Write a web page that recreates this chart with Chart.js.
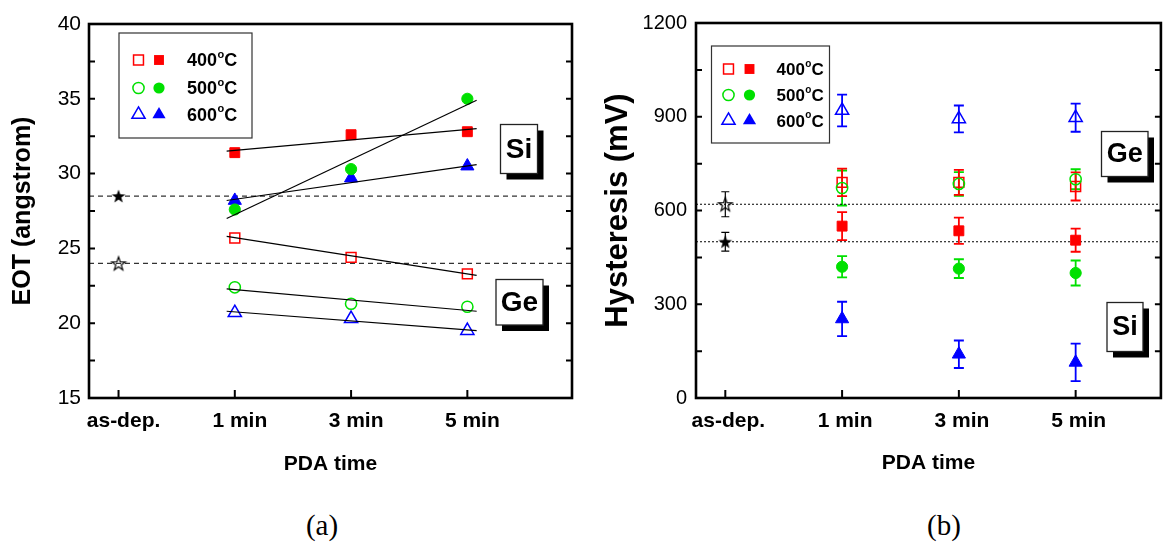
<!DOCTYPE html>
<html>
<head>
<meta charset="utf-8">
<title>EOT and hysteresis vs PDA time</title>
<script src="https://cdn.jsdelivr.net/npm/chart.js@4.4.1/dist/chart.umd.min.js"></script>
<style>
  body { margin: 0; background: #fff; }
  #wrap { position: relative; width: 1170px; height: 542px; overflow: hidden; background: #fff; }
  #wrap canvas { position: absolute; top: 0; }
  #chartA { left: 0; }
  #chartB { left: 590px; }
  .caption { position: absolute; top: 510px; width: 100px; line-height: 30px; text-align: center;
             font-family: 'Liberation Serif', 'Times New Roman', serif; font-size: 29px; color: #000; }
</style>
</head>
<body>
<div id="wrap">
  <canvas id="chartA" width="590" height="490"></canvas>
  <canvas id="chartB" width="580" height="490"></canvas>
  <div class="caption" style="left: 272px">(a)</div>
  <div class="caption" style="left: 894px">(b)</div>
</div>
<script>
const categories = ['as-dep.', '1 min', '3 min', '5 min'];
const pdaX = [1, 2, 3];            // where the 1, 3 and 5 min samples sit on the axis
const tempLabels = ['400', '500', '600'];

// (a) EOT in angstrom at 1, 3, 5 min
const eotAsDep = [28.5, 24.0];     // Si, Ge
const eotSi400 = [31.4, 32.6, 32.8];
const eotSi500 = [27.6, 30.3, 35.0];
const eotSi600 = [28.2, 29.7, 30.5];
const eotGe400 = [25.7, 24.4, 23.3];
const eotGe500 = [22.4, 21.3, 21.1];
const eotGe600 = [20.7, 20.3, 19.5];

// straight fit segments as drawn: value at the two ends
const fitEnds = [0.93, 3.08];
const eotFitSi400 = [31.5, 33.0];
const eotFitSi500 = [27.0, 34.9];
const eotFitSi600 = [28.2, 30.6];
const eotFitGe400 = [25.8, 23.2];
const eotFitGe500 = [22.3, 20.8];
const eotFitGe600 = [20.8, 19.5];

// (b) hysteresis in mV, with error half-widths
const hysAsDep = [500, 620];       // Si, Ge
const hysAsDepErr = [30, 40];
const hysSi400 = [550, 535, 505];
const hysSi400Err = [45, 42, 37];
const hysSi500 = [420, 414, 400];
const hysSi500Err = [34, 30, 40];
const hysSi600 = [253, 140, 114];
const hysSi600Err = [55, 44, 60];
const hysGe400 = [690, 690, 677];
const hysGe400Err = [44, 40, 45];
const hysGe500 = [672, 685, 700];
const hysGe500Err = [56, 38, 32];
const hysGe600 = [920, 893, 897];
const hysGe600Err = [51, 43, 45];

const colors = ['#ff0000', '#00e000', '#0000ff'];
const shapes = ['rect', 'circle', 'triangle'];
const FONT = "'Liberation Sans', Arial, sans-serif";

Chart.defaults.font.family = FONT;
Chart.defaults.color = '#000';

function pts(values, xs) {
  return values.map((v, i) => ({ x: xs[i], y: v }));
}

function makeStar(filled) {
  const c = document.createElement('canvas');
  c.width = c.height = 18;
  const g = c.getContext('2d');
  g.beginPath();
  for (let i = 0; i < 10; i++) {
    const r = i % 2 ? 2.9 : 7.2;
    const a = -Math.PI / 2 + i * Math.PI / 5;
    g.lineTo(9 + r * Math.cos(a), 9.7 + r * Math.sin(a));
  }
  g.closePath();
  if (filled) {
    g.fillStyle = '#000';
    g.fill();
  } else {
    g.lineWidth = 1.2;
    g.strokeStyle = '#000';
    g.stroke();
  }
  return c;
}
const starFilled = makeStar(true);
const starOpen = makeStar(false);

const radii = { rect: 7, circle: 5.6, triangle: 7.6 };

function pointSet(values, xs, color, style, filled, errs) {
  const r = typeof style === 'string' ? radii[style] : 6;
  return {
    data: pts(values, xs),
    showLine: false,
    pointStyle: style,
    pointRadius: r,
    pointHoverRadius: r,
    borderColor: color,
    backgroundColor: filled ? color : 'rgba(0,0,0,0)',
    pointBorderWidth: filled ? 1 : 1.5,
    errors: errs,
    errorColor: color
  };
}

function lineSet(xs, ys, dash, color) {
  return {
    data: pts(ys, xs),
    showLine: true,
    borderColor: color,
    borderWidth: 1.2,
    borderDash: dash,
    pointRadius: 0,
    pointHoverRadius: 0,
    fill: false
  };
}

function drawMarker(ctx, shape, x, y, color, filled) {
  const r = radii[shape];
  ctx.beginPath();
  if (shape === 'rect') {
    const s = r * Math.SQRT1_2;
    ctx.rect(x - s, y - s, 2 * s, 2 * s);
  } else if (shape === 'circle') {
    ctx.arc(x, y, r, 0, Math.PI * 2);
  } else {
    for (let k = 0; k < 3; k++) {
      const a = k * 2 * Math.PI / 3;
      ctx.lineTo(x + Math.sin(a) * r, y - Math.cos(a) * r);
    }
    ctx.closePath();
  }
  if (filled) {
    ctx.fillStyle = color;
    ctx.fill();
  } else {
    ctx.lineWidth = 1.5;
    ctx.strokeStyle = color;
    ctx.stroke();
  }
}

function makeDecor(cfg) {
  return {
    id: 'decor',
    beforeDatasetsDraw(chart) {
      const ctx = chart.ctx, xs = chart.scales.x, ys = chart.scales.y;
      ctx.save();
      chart.data.datasets.forEach(ds => {
        if (!ds.errors) return;
        const black = ds.errorColor === '#000';
        ctx.strokeStyle = ds.errorColor;
        ctx.lineWidth = black ? 1.2 : 1.8;
        const cap = black ? 4 : 5;
        ds.data.forEach((p, i) => {
          const x = xs.getPixelForValue(p.x);
          const y1 = ys.getPixelForValue(p.y + ds.errors[i]);
          const y2 = ys.getPixelForValue(p.y - ds.errors[i]);
          ctx.beginPath();
          ctx.moveTo(x, y1); ctx.lineTo(x, y2);
          ctx.moveTo(x - cap, y1); ctx.lineTo(x + cap, y1);
          ctx.moveTo(x - cap, y2); ctx.lineTo(x + cap, y2);
          ctx.stroke();
        });
      });
      ctx.restore();
    },
    afterDraw(chart) {
      const ctx = chart.ctx, a = chart.chartArea;
      const xs = chart.scales.x, ys = chart.scales.y;
      ctx.save();
      // inward tick marks
      ctx.strokeStyle = '#000';
      ctx.lineWidth = 2;
      ctx.beginPath();
      for (let v = ys.min; v <= ys.max + 1e-6; v += cfg.minorStep) {
        const y = ys.getPixelForValue(v);
        ctx.moveTo(a.left, y); ctx.lineTo(a.left + 6, y);
        ctx.moveTo(a.right - 6, y); ctx.lineTo(a.right, y);
      }
      categories.forEach((c, i) => {
        const x = xs.getPixelForValue(i);
        ctx.moveTo(x, a.bottom); ctx.lineTo(x, a.bottom - 8);
      });
      ctx.stroke();
      // frame
      ctx.lineWidth = 2.6;
      ctx.strokeRect(a.left, a.top, a.right - a.left, a.bottom - a.top);

      // legend
      const L = cfg.legend;
      ctx.lineWidth = 1.2;
      ctx.strokeStyle = '#333';
      ctx.strokeRect(L.x, L.y, L.w, L.h);
      tempLabels.forEach((t, i) => {
        const y = L.rows[i];
        drawMarker(ctx, shapes[i], L.marks[0], y, colors[i], false);
        drawMarker(ctx, shapes[i], L.marks[1], y, colors[i], true);
        ctx.fillStyle = '#000';
        ctx.textBaseline = 'alphabetic';
        ctx.font = 'bold ' + L.size + 'px ' + FONT;
        const base = y + L.size * 0.36;
        ctx.fillText(t, L.textX, base);
        let x = L.textX + ctx.measureText(t).width + 0.5;
        ctx.font = 'bold ' + Math.round(L.size * 0.6) + 'px ' + FONT;
        ctx.fillText('o', x, base - L.size * 0.48);
        x += ctx.measureText('o').width;
        ctx.font = 'bold ' + L.size + 'px ' + FONT;
        ctx.fillText('C', x, base);
      });

      // Si / Ge tags with drop shadow
      cfg.boxes.forEach(b => {
        ctx.fillStyle = '#000';
        ctx.fillRect(b.x + 6, b.y + 6, b.w, b.h);
        ctx.fillStyle = '#fff';
        ctx.fillRect(b.x, b.y, b.w, b.h);
        ctx.lineWidth = 1.3;
        ctx.strokeStyle = '#222';
        ctx.strokeRect(b.x, b.y, b.w, b.h);
        ctx.fillStyle = '#000';
        ctx.font = 'bold ' + b.size + 'px ' + FONT;
        ctx.textAlign = 'center';
        ctx.textBaseline = 'middle';
        ctx.fillText(b.text, b.x + b.w / 2, b.y + b.h / 2 + 1);
      });
      ctx.restore();
    }
  };
}

function scalesFor(o) {
  return {
    x: {
      type: 'linear',
      min: o.xMin,
      max: o.xMax,
      afterBuildTicks: s => { s.ticks = categories.map((c, i) => ({ value: i })); },
      afterFit: s => { s.height = o.xHeight; },
      grid: { display: false, drawTicks: false },
      border: { display: false },
      ticks: {
        callback: v => categories[v],
        font: { size: 21, weight: 'bold' },
        color: '#000',
        padding: 11,
        labelOffset: o.labelOffset,
        maxRotation: 0,
        autoSkip: false
      },
      title: {
        display: true,
        text: 'PDA time',
        font: { size: 21, weight: 'bold' },
        color: '#000',
        padding: { top: 0, bottom: o.xTitlePad }
      }
    },
    y: {
      min: o.yMin,
      max: o.yMax,
      afterFit: s => { s.width = o.yWidth; },
      grid: { display: false, drawTicks: false },
      border: { display: false },
      ticks: {
        stepSize: o.yStep,
        callback: v => String(v),
        font: { size: o.yTickSize },
        color: '#000',
        padding: o.yTickPad
      },
      title: {
        display: true,
        text: o.yTitle,
        font: { size: o.yTitleSize, weight: 'bold' },
        color: '#000',
        padding: o.yTitlePad
      }
    }
  };
}

// ---------- (a) EOT ----------
const aXMin = -0.254, aXMax = 3.9;
const dataA = {
  datasets: [
    lineSet(fitEnds, eotFitSi400, [], '#000'),
    lineSet(fitEnds, eotFitSi500, [], '#000'),
    lineSet(fitEnds, eotFitSi600, [], '#000'),
    lineSet(fitEnds, eotFitGe400, [], '#000'),
    lineSet(fitEnds, eotFitGe500, [], '#000'),
    lineSet(fitEnds, eotFitGe600, [], '#000'),
    pointSet(eotSi400, pdaX, colors[0], 'rect', true),
    pointSet(eotSi500, pdaX, colors[1], 'circle', true),
    pointSet(eotSi600, pdaX, colors[2], 'triangle', true),
    pointSet(eotGe400, pdaX, colors[0], 'rect', false),
    pointSet(eotGe500, pdaX, colors[1], 'circle', false),
    pointSet(eotGe600, pdaX, colors[2], 'triangle', false),
    pointSet([eotAsDep[0]], [0], '#000', starFilled, true),
    pointSet([eotAsDep[1]], [0], '#000', starOpen, false),
    lineSet([aXMin, aXMax], [eotAsDep[0], eotAsDep[0]], [5, 4], '#333'),
    lineSet([aXMin, aXMax], [eotAsDep[1], eotAsDep[1]], [5, 4], '#333')
  ]
};

new Chart(document.getElementById('chartA'), {
  type: 'scatter',
  data: dataA,
  options: {
    responsive: false,
    animation: false,
    events: [],
    layout: { padding: { top: 24, right: 18, left: 0, bottom: 0 } },
    plugins: { legend: { display: false }, tooltip: { enabled: false } },
    scales: scalesFor({
      xMin: aXMin, xMax: aXMax, xHeight: 92, labelOffset: 5, xTitlePad: 13,
      yMin: 15, yMax: 40, yStep: 5, yWidth: 89, yTickSize: 21, yTickPad: 8,
      yTitle: 'EOT (angstrom)', yTitleSize: 25, yTitlePad: 8
    })
  },
  plugins: [makeDecor({
    minorStep: 2.5,
    legend: { x: 119, y: 33, w: 133, h: 105, marks: [138.5, 159], rows: [60, 88, 114.5], textX: 187, size: 18 },
    boxes: [
      { text: 'Si', x: 500.5, y: 124.5, w: 37, h: 49, size: 28 },
      { text: 'Ge', x: 496, y: 279.5, w: 47, h: 45.5, size: 28 }
    ]
  })]
});

// ---------- (b) Hysteresis ----------
const bXMin = -0.251, bXMax = 3.73;
const dataB = {
  datasets: [
    pointSet(hysGe600, pdaX, colors[2], 'triangle', false, hysGe600Err),
    pointSet(hysGe500, pdaX, colors[1], 'circle', false, hysGe500Err),
    pointSet(hysGe400, pdaX, colors[0], 'rect', false, hysGe400Err),
    pointSet(hysSi400, pdaX, colors[0], 'rect', true, hysSi400Err),
    pointSet(hysSi500, pdaX, colors[1], 'circle', true, hysSi500Err),
    pointSet(hysSi600, pdaX, colors[2], 'triangle', true, hysSi600Err),
    pointSet([hysAsDep[0]], [0], '#000', starFilled, true, [hysAsDepErr[0]]),
    pointSet([hysAsDep[1]], [0], '#000', starOpen, false, [hysAsDepErr[1]]),
    lineSet([bXMin, bXMax], [hysAsDep[0], hysAsDep[0]], [2, 2], '#000'),
    lineSet([bXMin, bXMax], [hysAsDep[1], hysAsDep[1]], [2, 2], '#000')
  ]
};

new Chart(document.getElementById('chartB'), {
  type: 'scatter',
  data: dataB,
  options: {
    responsive: false,
    animation: false,
    events: [],
    layout: { padding: { top: 23, right: 2, left: 0, bottom: 0 } },
    plugins: { legend: { display: false }, tooltip: { enabled: false } },
    scales: scalesFor({
      xMin: bXMin, xMax: bXMax, xHeight: 92, labelOffset: 3, xTitlePad: 14,
      yMin: 0, yMax: 1200, yStep: 300, yWidth: 106, yTickSize: 20, yTickPad: 9,
      yTitle: 'Hysteresis (mV)', yTitleSize: 31, yTitlePad: 10
    })
  },
  plugins: [makeDecor({
    minorStep: 150,
    legend: { x: 121.5, y: 46, w: 118, h: 97, marks: [138.5, 159.5], rows: [69, 95, 120.5], textX: 186.5, size: 17 },
    boxes: [
      { text: 'Ge', x: 511.5, y: 131.5, w: 46.5, h: 45, size: 27 },
      { text: 'Si', x: 517, y: 302.5, w: 36, h: 49, size: 27 }
    ]
  })]
});
</script>
</body>
</html>
